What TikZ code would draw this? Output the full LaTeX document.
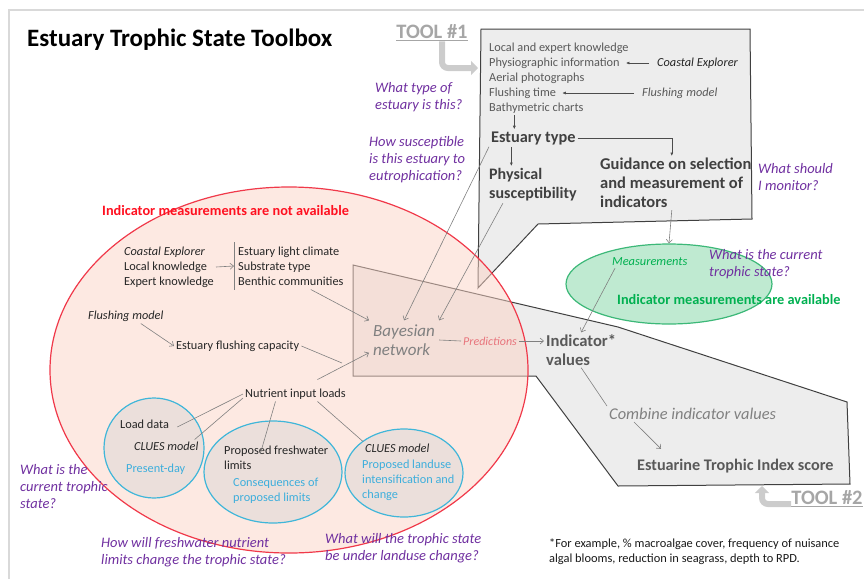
\documentclass[tikz,border=0pt]{standalone}
\usepackage{fontspec}
\setmainfont{Carlito}
\usetikzlibrary{shapes.geometric,arrows.meta}
\definecolor{qpurple}{HTML}{7030A0}
\definecolor{txtgray}{HTML}{595959}
\definecolor{dkgray}{HTML}{404040}
\definecolor{litegray}{HTML}{808080}
\definecolor{boxfill}{HTML}{EDEDED}
\definecolor{redline}{HTML}{F0394A}
\definecolor{redfill}{HTML}{FBD3C5}
\definecolor{redtxt}{HTML}{FF1020}
\definecolor{cyanline}{HTML}{3FB6D9}
\definecolor{cyantxt}{HTML}{3DAEDC}
\definecolor{greenline}{HTML}{3CB878}
\definecolor{greenfill}{HTML}{B8E8CC}
\definecolor{greentxt}{HTML}{00B050}
\definecolor{predred}{HTML}{E8747C}
\definecolor{toolgray}{HTML}{A6A6A6}
\definecolor{framegray}{HTML}{D9D9D9}
\begin{document}
\begin{tikzpicture}[x=1pt, y=-1pt,
    toolbox/.style={draw=dkgray, fill=boxfill, line width=1pt},
    question/.style={anchor=west, align=left, inner sep=0pt, text=qpurple, font=\fontsize{14.5}{17}\selectfont\itshape},
    listtxt/.style={anchor=west, inner sep=2pt, text=txtgray, font=\fontsize{12.3}{15}\selectfont},
    bodytxt/.style={anchor=west, align=left, inner sep=2pt, text=black!85, font=\fontsize{12.3}{15}\selectfont},
    cyantext/.style={anchor=west, align=left, inner sep=2pt, text=cyantxt, font=\fontsize{12.3}{15}\selectfont},
    headtxt/.style={anchor=west, align=left, inner sep=2pt, text=dkgray, font=\fontsize{16}{19}\selectfont\bfseries},
    bubble/.style={ellipse, draw=cyanline, line width=1.2pt, fill=gray!35, fill opacity=0.4, inner sep=0pt},
    link/.style={draw=litegray, line width=0.6pt, -{Straight Barb[length=3.5pt,width=6pt]}},
    plain/.style={draw=litegray, line width=0.6pt},
    tiparrow/.style={draw=black!70, line width=0.6pt, -{Latex[length=3.5pt,width=3pt]}},
    bentarrow/.style={draw=gray!40, line width=6pt, rounded corners=6pt, -{Triangle[length=7pt,width=14pt]}},
    toollabel/.style={inner sep=0pt, text=toolgray, font=\fontsize{20.5}{24}\selectfont\bfseries}
  ]
  \useasboundingbox (0,0) rectangle (864,579);
  \draw[framegray, line width=1.5pt] (9,579) -- (9,10) -- (864,10);

  % the two tool outlines
  \draw[toolbox] (481,29) -- (750,29) -- (752,219) -- (538,224) -- (478,288) -- cycle;
  \draw[toolbox] (353,265) -- (618,327) -- (847,402) -- (850,484) -- (618,486) -- (536,376) -- (353,376) -- cycle;

  % regions
  \node[ellipse, draw=redline, line width=1.2pt, fill=redfill, fill opacity=0.5,
        minimum width=478, minimum height=366] (nomeas) at (289,370) {};
  \node[ellipse, draw=greenline, line width=1.2pt, fill=greenfill, fill opacity=0.9,
        minimum width=206, minimum height=80] (meas) at (669,284) {};
  \node[bubble, minimum width=100, minimum height=100] (present) at (154,448) {};
  \node[bubble, minimum width=138, minimum height=102] (limits) at (273,472) {};
  \node[bubble, minimum width=118, minimum height=88] (landuse) at (404,473) {};

  % title and tool labels
  \node[anchor=west, inner sep=0pt, font=\fontsize{25}{30}\selectfont\bfseries] (title) at (27,40) {Estuary Trophic State Toolbox};
  \node[toollabel] (tool1) at (432,33) {\underline{TOOL \#1}};
  \node[toollabel] (tool2) at (827,499) {\underline{TOOL \#2}};
  \coordinate (t1in) at (478,68);
  \coordinate (t2in) at (762,486);
  \draw[bentarrow] ([xshift=10pt]tool1.south) |- (t1in);
  \draw[bentarrow] ([yshift=-5pt]tool2.west) -| (t2in);

  % tool 1
  \node[listtxt] (lek) at (487,48) {Local and expert knowledge};
  \node[listtxt] (physio) at (487,63) {Physiographic information};
  \node[listtxt] (aerial) at (487,78) {Aerial photographs};
  \node[listtxt] (fltime) at (487,93) {Flushing time};
  \node[listtxt] (bathy) at (487,108) {Bathymetric charts};
  \node[listtxt, text=black!85, font=\fontsize{12.3}{15}\selectfont\itshape] (ce1) at (655,63) {Coastal Explorer};
  \node[listtxt, font=\fontsize{12.3}{15}\selectfont\itshape] (fm1) at (640,93) {Flushing model};
  \draw[tiparrow, shorten <=6pt, shorten >=4pt] (ce1.west) -- (physio.east);
  \draw[tiparrow, shorten <=6pt, shorten >=4pt] (fm1.west) -- (fltime.east);

  \node[headtxt, font=\fontsize{16.3}{19}\selectfont\bfseries] (etype) at (489,138) {Estuary type};
  \node[headtxt, anchor=north west] (psus) at (487,166) {Physical\\susceptibility};
  \node[headtxt, anchor=north west, font=\fontsize{16.5}{19}\selectfont\bfseries] (guid) at (598,156) {Guidance on selection\\and measurement of\\indicators};
  \draw[tiparrow] ([xshift=-22pt]bathy.south) -- ([xshift=-22pt]bathy.south |- etype.north);
  \draw[tiparrow] ([xshift=-22pt]etype.south) -- ([xshift=-22pt]etype.south |- psus.north);
  \draw[tiparrow] (etype.east) -| ([xshift=-4pt]guid.north);
  \draw[link] ([xshift=-4pt]guid.south) -- (meas.north);

  % questions
  \node[question] (qtype) at (375,97) {What type of\\estuary is this?};
  \node[question] (qsus) at (369,160) {How susceptible\\is this estuary to\\eutrophication?};
  \node[question] (qmon) at (758,177) {What should\\I monitor?};
  \node[question] (qnow) at (709,264) {What is the current\\trophic state?};
  \node[question] (qnow2) at (20,487) {What is the\\current trophic\\state?};
  \node[question] (qfw) at (101,552) {How will freshwater nutrient\\limits change the trophic state?};
  \node[question] (qlu) at (325,548) {What will the trophic state\\be under landuse change?};

  % no measurements
  \node[anchor=west, inner sep=0pt, text=redtxt, font=\fontsize{14.3}{16}\selectfont\bfseries] (nomeastxt) at (102,211) {Indicator measurements are not available};
  \node[bodytxt] (src) at (122,267) {\textit{Coastal Explorer}\\Local knowledge\\Expert knowledge};
  \node[bodytxt, inner sep=4pt] (habitat) at (234,266) {Estuary light climate\\Substrate type\\Benthic communities};
  \draw[plain] (habitat.north west) -- (habitat.south west);
  \draw[link] (src.east) -- (habitat.west);
  \node[bodytxt, font=\fontsize{12.3}{15}\selectfont\itshape] (fm2) at (86,316) {Flushing model};
  \node[bodytxt] (efc) at (174,346) {Estuary flushing capacity};
  \draw[link] ([xshift=15pt]fm2.south) -- (efc.west);
  \node[bodytxt] (nil) at (243,394) {Nutrient input loads};

  \node[anchor=west, inner sep=4pt, text=litegray, align=left, font=\fontsize{17}{19}\selectfont\itshape] (bn) at (369,340) {Bayesian\\network};
  \coordinate (efcend) at (342,363);
  \draw[link] ([xshift=20pt]habitat.south) -- (bn.north west);
  \draw[plain] (efc.east) -- (efcend);
  \draw[link] ([xshift=22pt,yshift=7pt]nil.north) -- (bn.200);
  \draw[link] (etype.south west) -- (bn.north);
  \draw[link] ([xshift=-30pt]psus.south) -- (bn.north east);

  % circles
  \node[bodytxt] (loaddata) at (118,424) {Load data};
  \node[bodytxt, font=\fontsize{12.3}{15}\selectfont\itshape] (clues1) at (132,446) {CLUES model};
  \node[cyantext] (pday) at (124,469) {Present-day};
  \node[bodytxt] (fwlim) at (222,458) {Proposed freshwater\\limits};
  \node[cyantext] (cons) at (231,491) {Consequences of\\proposed limits};
  \node[bodytxt, font=\fontsize{12.3}{15}\selectfont\itshape] (clues2) at (363,448) {CLUES model};
  \node[cyantext] (plu) at (360,480) {Proposed landuse\\intensification and\\change};
  \draw[plain] (nil.west) -- ([xshift=6pt,yshift=-3pt]loaddata.east);
  \draw[plain] ([yshift=-4pt]nil.west) -- ([xshift=-6pt]clues1.north east);
  \draw[plain] ([xshift=-20pt]nil.south) -- ([xshift=-16pt,yshift=-10pt]fwlim.north);
  \draw[plain] ([xshift=22pt]nil.south) -- (clues2.north west);

  % tool 2
  \node[anchor=west, inner sep=2pt, text=predred, font=\fontsize{12}{15}\selectfont\itshape] (pred) at (461,341) {Predictions};
  \node[headtxt, text=txtgray, font=\fontsize{16.6}{19}\selectfont\bfseries] (iv) at (544,350) {Indicator*\\values};
  \draw[plain] (bn.east) -- (pred.west);
  \draw[link] (pred.east) -- (pred.east -| iv.west);
  \node[anchor=west, inner sep=2pt, text=greentxt, font=\fontsize{12.4}{15}\selectfont\itshape] (meastxt) at (610,262) {Measurements};
  \node[anchor=west, inner sep=0pt, text=greentxt, font=\fontsize{14.3}{16}\selectfont\bfseries] (avail) at (617,300) {Indicator measurements are available};
  \draw[link] ([xshift=5pt]meastxt.south west) -- (iv.north);
  \node[anchor=west, inner sep=2pt, text=litegray, font=\fontsize{16.4}{19}\selectfont\itshape] (comb) at (607,414) {Combine indicator values};
  \node[headtxt, text=txtgray, font=\fontsize{16.2}{19}\selectfont\bfseries] (etis) at (635,466) {Estuarine Trophic Index score};
  \draw[plain] (iv.south) -- (comb.north west);
  \draw[link] ([xshift=27pt]comb.south west) -- ([xshift=26pt,yshift=8pt]etis.north west);

  % footnote
  \node[bodytxt, text=black!90, font=\fontsize{12.4}{15}\selectfont] (note) at (547,552) {*For example, \% macroalgae cover, frequency of nuisance\\algal blooms, reduction in seagrass, depth to RPD.};
\end{tikzpicture}
\end{document}
